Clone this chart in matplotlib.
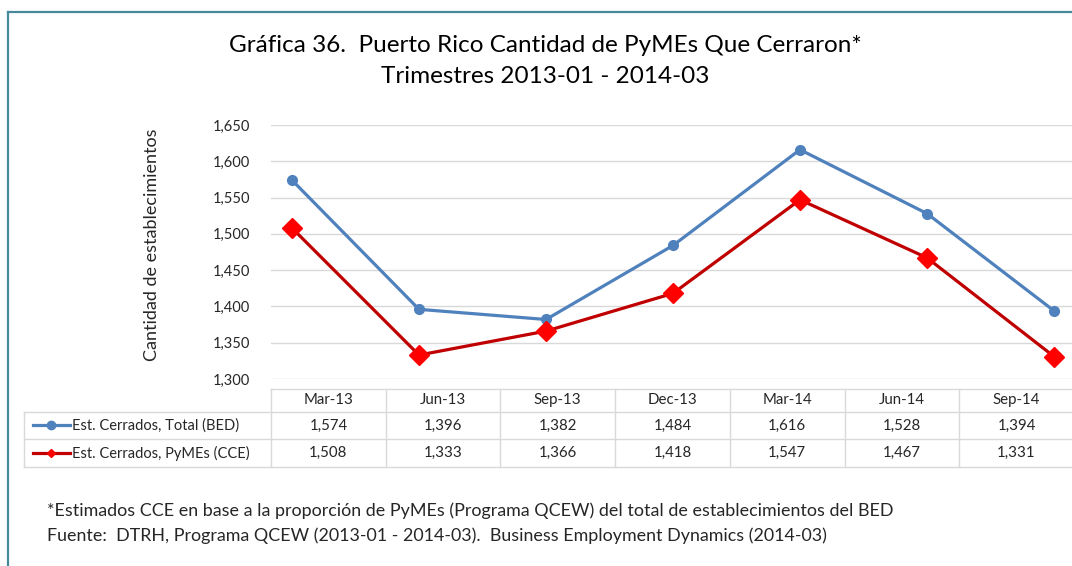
import matplotlib
matplotlib.use("Agg")
from matplotlib import pyplot as plt
from matplotlib.lines import Line2D

plt.rcParams['font.family'] = ['Lato', 'DejaVu Sans']

quarters = ['Mar-13', 'Jun-13', 'Sep-13', 'Dec-13', 'Mar-14', 'Jun-14', 'Sep-14']
total_bed = [1574, 1396, 1382, 1484, 1616, 1528, 1394]
pymes_cce = [1508, 1333, 1366, 1418, 1547, 1467, 1331]
series_names = ['Est. Cerrados, Total (BED)', 'Est. Cerrados, PyMEs (CCE)']
y_ticks = [1300, 1350, 1400, 1450, 1500, 1550, 1600, 1650]

title1 = 'Gráfica 36.  Puerto Rico Cantidad de PyMEs Que Cerraron*'
title2 = 'Trimestres 2013-01 - 2014-03'
ylabel = 'Cantidad de establecimientos'
note1 = '*Estimados CCE en base a la proporción de PyMEs (Programa QCEW) del total de establecimientos del BED'
note2 = 'Fuente:  DTRH, Programa QCEW (2013-01 - 2014-03).  Business Employment Dynamics (2014-03)'

W, H = 1072, 566
BLUE = '#4f81bd'
RED = '#c00000'
RED_MK = '#ff0000'
GRID = '#d9d9d9'
TXT = '#262626'

fig = plt.figure(figsize=(W / 100, H / 100), dpi=100)

# marco del grafico
fig.add_artist(Line2D([8 / W, 1], [1 - 12 / H, 1 - 12 / H], color='#46899b', lw=1.6))
fig.add_artist(Line2D([8 / W, 8 / W], [0, 1 - 12 / H], color='#46899b', lw=1.6))

fig.text(545 / W, 1 - 45 / H, title1, ha='center', va='center', fontsize=17.5, color='black')
fig.text(545 / W, 1 - 76 / H, title2, ha='center', va='center', fontsize=17.5, color='black')
fig.text(152 / W, 1 - 245 / H, ylabel, rotation=90, ha='center', va='center',
         fontsize=13, color=TXT)

# area de trazado
ax = fig.add_axes([271 / W, 1 - 379 / H, (W - 271) / W, (379 - 125) / H])
x = list(range(len(quarters)))
ax.set_xlim(-21 / 127, 6 + 18 / 127)
ax.set_ylim(1300, 1650)
ax.set_yticks(y_ticks)
ax.set_yticklabels([f'{v:,}' for v in y_ticks])
ax.set_xticks([])
ax.yaxis.grid(True, color=GRID, lw=1)
ax.set_axisbelow(True)
for s in ax.spines.values():
    s.set_visible(False)
ax.tick_params(axis='y', length=0, pad=15, labelsize=10.5, labelcolor=TXT)

ax.plot(x, total_bed, color=BLUE, lw=2.3, marker='o', ms=7, zorder=3, clip_on=False)
ax.plot(x, pymes_cce, color=RED, lw=2.3, marker='D', ms=10, mfc=RED_MK, mec=RED_MK,
        zorder=3, clip_on=False)

# tabla de datos
col_w = 114.7
x0 = 271
tax = fig.add_axes([24 / W, 1 - 467 / H, (W - 24) / W, (467 - 389) / H])
left = (24 - x0) / col_w
right = (W - x0) / col_w
tax.set_xlim(left, right)
tax.set_ylim(467, 389)
tax.axis('off')

rows = [389, 412, 439, 467]
kw = dict(color=GRID, lw=1, clip_on=False)
tax.plot([0, right], [rows[0], rows[0]], **kw)
for r in rows[1:]:
    tax.plot([left, right], [r, r], **kw)
tax.plot([left, left], [rows[1], rows[3]], **kw)
for i in range(len(quarters)):
    tax.plot([i, i], [rows[0], rows[3]], **kw)

for i, q in enumerate(quarters):
    tax.text(i + 0.5, (rows[0] + rows[1]) / 2, q, ha='center', va='center',
             fontsize=10.8, color=TXT)
    tax.text(i + 0.5, (rows[1] + rows[2]) / 2, f'{total_bed[i]:,}', ha='center',
             va='center', fontsize=10.8, color=TXT)
    tax.text(i + 0.5, (rows[2] + rows[3]) / 2, f'{pymes_cce[i]:,}', ha='center',
             va='center', fontsize=10.8, color=TXT)

def px(v):
    return (v - x0) / col_w

for k, name in enumerate(series_names):
    yc = (rows[k + 1] + rows[k + 2]) / 2
    if k == 0:
        tax.plot([px(33), px(70)], [yc, yc], color=BLUE, lw=2.3, clip_on=False)
        tax.plot([px(51)], [yc], 'o', color=BLUE, ms=6, clip_on=False)
    else:
        tax.plot([px(33), px(70)], [yc, yc], color=RED, lw=2.3, clip_on=False)
        tax.plot([px(51)], [yc], 'D', color=RED_MK, ms=4.5, clip_on=False)
    tax.text(px(72), yc, name, ha='left', va='center', fontsize=10.5, color=TXT)

fig.text(47 / W, 1 - 511 / H, note1, ha='left', va='center', fontsize=12.9, color=TXT)
fig.text(47 / W, 1 - 536 / H, note2, ha='left', va='center', fontsize=12.9, color=TXT)

fig.savefig('out.png', dpi=100)
